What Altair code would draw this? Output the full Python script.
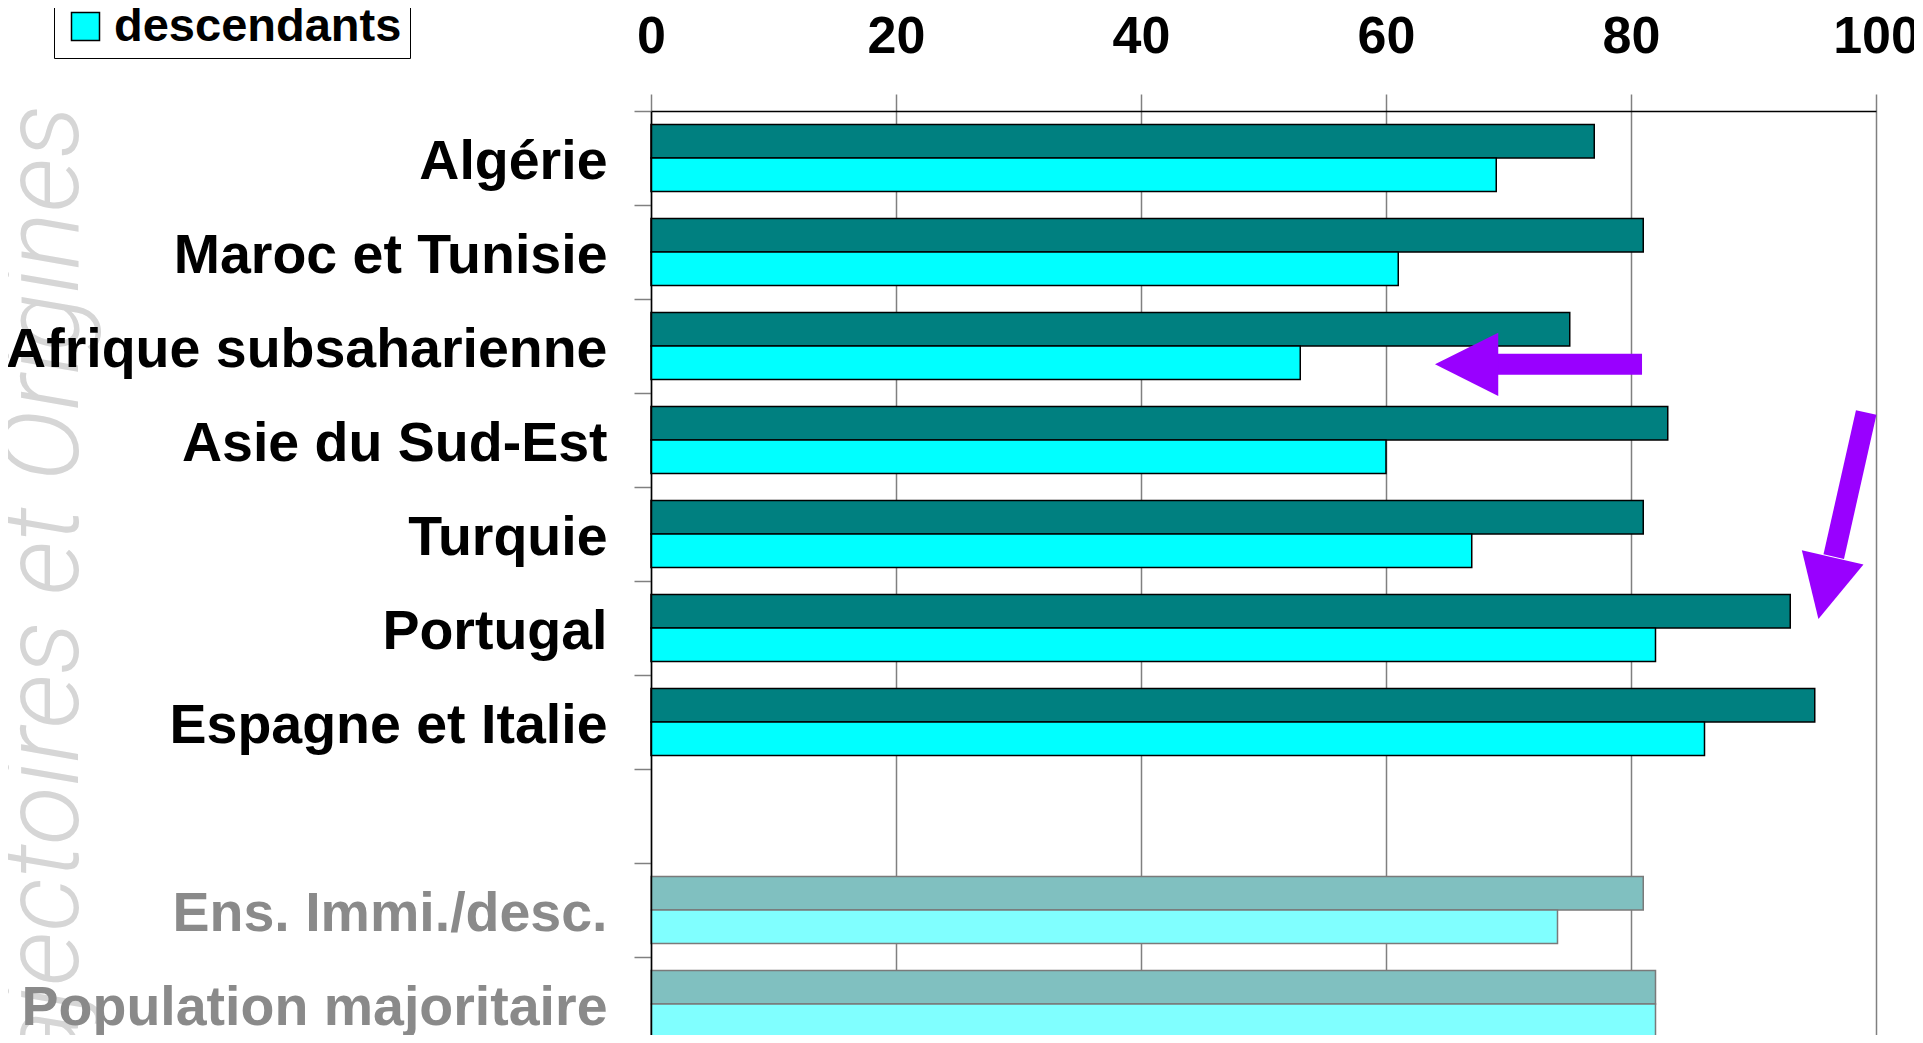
import altair as alt
import pandas as pd

categories = ["Algérie", "Maroc et Tunisie", "Afrique subsaharienne", "Asie du Sud-Est",
              "Turquie", "Portugal", "Espagne et Italie", " ",
              "Ens. Immi./desc.", "Population majoritaire"]
reference_rows = ["Ens. Immi./desc.", "Population majoritaire"]
immigres = [77, 81, 75, 83, 81, 93, 95, None, 81, 82]
descendants = [69, 61, 53, 60, 67, 82, 86, None, 74, 82]
series_names = ["immigrés", "descendants"]
x_ticks = [0, 20, 40, 60, 80, 100]
watermark = "Trajectoires et Origines"

# annotation arrows, in data units (x) and band units (y, 0 = top band edge)
h_arrow = {"x_tail": 80.9, "x_base": 69.2, "x_tip": 64.0, "y": 2.695}
d_arrow = {"x_tail": 99.2, "y_tail": 3.207, "x_base": 96.45, "y_base": 4.761,
           "x_tip": 95.3, "y_tip": 5.404, "angle": 13}

rows = []
for cat, a, b in zip(categories, immigres, descendants):
    if a is None:
        continue
    ref = cat in reference_rows
    rows.append({"cat": cat, "series": "immigrés", "value": a,
                 "key": "immigrés_ref" if ref else "immigrés"})
    rows.append({"cat": cat, "series": "descendants", "value": b,
                 "key": "descendants_ref" if ref else "descendants"})
df = pd.DataFrame(rows)

FONT = "Liberation Sans"
ref_test = "indexof(['Ens. Immi./desc.', 'Population majoritaire'], datum.value) >= 0"
ref_test_row = "indexof(['Ens. Immi./desc.', 'Population majoritaire'], datum.cat) >= 0"

xscale = alt.Scale(domain=[0, 100], nice=False, zero=True)

bars = alt.Chart(df).mark_bar(strokeWidth=1.5).encode(
    x=alt.X("value:Q", scale=xscale,
            axis=alt.Axis(orient="top", values=x_ticks, title=None, grid=True,
                          gridColor="#808080", gridWidth=1.5, labelFlush=False,
                          labelFont=FONT, labelFontSize=52, labelFontWeight="bold",
                          labelColor="black", labelPadding=31,
                          tickColor="#808080", tickSize=17, tickWidth=1.5,
                          domainColor="black", domainWidth=1.5)),
    y=alt.Y("cat:N", sort=categories,
            scale=alt.Scale(domain=categories, paddingInner=0, paddingOuter=0),
            axis=alt.Axis(title=None, labelFont=FONT, labelFontSize=55.5,
                          labelFontWeight="bold", labelLimit=0, labelPadding=27,
                          labelOffset=4, zindex=1,
                          labelColor=alt.condition(ref_test, alt.value("#8a8a8a"), alt.value("black")),
                          tickColor="#808080", tickSize=17, tickWidth=1.5,
                          bandPosition=0, domainColor="black", domainWidth=1.5)),
    yOffset=alt.YOffset("series:N", sort=series_names,
                        scale=alt.Scale(domain=series_names, paddingInner=0, paddingOuter=0.4)),
    color=alt.Color("key:N",
                    scale=alt.Scale(domain=["immigrés", "descendants", "immigrés_ref", "descendants_ref"],
                                    range=["#008080", "#00ffff", "#80c0c0", "#80ffff"]),
                    legend=alt.Legend(values=series_names, title=None, orient="none",
                                      legendX=-597, legendY=-168, labelLimit=0,
                                      fillColor="white", strokeColor="black", padding=8,
                                      labelFont=FONT, labelFontSize=47, labelFontWeight="bold",
                                      labelColor="black", labelOffset=5, rowPadding=4,
                                      symbolType="square", symbolSize=784,
                                      symbolStrokeColor="black", symbolStrokeWidth=1.5)),
    stroke=alt.condition(ref_test_row, alt.value("#7a7a7a"), alt.value("black")),
)

arrow_df = pd.DataFrame([
    {"x": h_arrow["x_tail"], "x2": h_arrow["x_base"] - 0.5, "y": h_arrow["y"], "y2": h_arrow["y"]},
    {"x": d_arrow["x_tail"], "x2": d_arrow["x_base"] + 0.1, "y": d_arrow["y_tail"], "y2": d_arrow["y_base"] - 0.02},
])
head_df = pd.DataFrame([
    {"x": h_arrow["x_tip"], "y": h_arrow["y"], "shape": "M0,0L2,-1L2,1Z", "angle": 0},
    {"x": d_arrow["x_tip"], "y": d_arrow["y_tip"], "shape": "M0,0L-1,-2L1,-2Z", "angle": d_arrow["angle"]},
])
yband = alt.Scale(domain=[0, 10], nice=False, zero=False, reverse=True)

shafts = alt.Chart(arrow_df).mark_rule(color="#9900ff", strokeWidth=21, strokeCap="butt").encode(
    x=alt.X("x:Q", scale=xscale), x2="x2:Q",
    y=alt.Y("y:Q", scale=yband, axis=None), y2="y2:Q",
)
heads = alt.Chart(head_df).mark_point(filled=True, color="#9900ff", opacity=1, size=4000).encode(
    x=alt.X("x:Q", scale=xscale),
    y=alt.Y("y:Q", scale=yband, axis=None),
    shape=alt.Shape("shape:N", scale=None),
    angle=alt.Angle("angle:Q", scale=None),
)

wm = alt.Chart(pd.DataFrame({"t": [watermark]})).mark_text(
    font="Roboto", fontWeight=300, fontStyle="italic", fontSize=108, color="#d6d6d6", angle=270,
    align="right", baseline="alphabetic",
).encode(x=alt.value(-573), y=alt.value(-6), text="t:N")

chart = alt.layer(wm, bars, shafts, heads).resolve_scale(y="independent").properties(
    width=1225, height=940,
    autosize=alt.AutoSizeParams(type="none"),
    padding={"left": 643, "top": 103, "right": 38, "bottom": -16},
).configure_view(stroke="black", strokeWidth=1.5).configure(background="white")

chart.save("out.html", embed_options={"renderer": "svg", "actions": False})
